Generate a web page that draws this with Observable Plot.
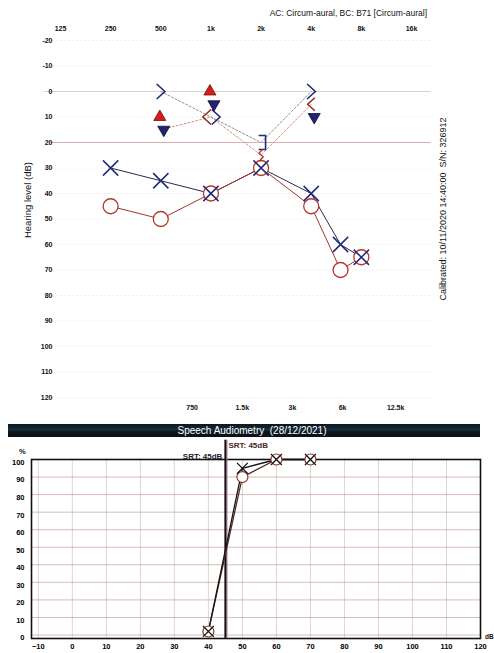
<!DOCTYPE html>
<html><head><meta charset="utf-8">
<script src="https://cdn.jsdelivr.net/npm/d3@7"></script>
<script src="https://cdn.jsdelivr.net/npm/@observablehq/plot@0.6"></script>
<style>
body{margin:0;background:#fff;}
#wrap{position:relative;width:494px;height:653px;overflow:hidden;font-family:"Liberation Sans",Arial,sans-serif;}
.abs{position:absolute;white-space:nowrap;color:#111;line-height:1;}
.plot{position:absolute;left:0;}
</style></head><body><div id="wrap"></div>
<script>
// ---------- Audiogram data ----------
const freqTicks = [125, 250, 500, 1000, 2000, 4000, 8000, 16000];
const freqTickLabels = ["125", "250", "500", "1k", "2k", "4k", "8k", "16k"];
const interTicks = [750, 1500, 3000, 6000, 12500];
const interTickLabels = ["750", "1.5k", "3k", "6k", "12.5k"];
const levelTicks = [-20, -10, 0, 10, 20, 30, 40, 50, 60, 70, 80, 90, 100, 110, 120];
const normalLimit = 20;

const acFreqs = [250, 500, 1000, 2000, 4000, 6000, 8000];
const acRight = [45, 50, 40, 30, 45, 70, 65];   // O
const acLeft  = [30, 35, 40, 30, 40, 60, 65];   // X

const bcFreqs = [500, 1000, 2000, 4000];
const bcRight = [15, 10, 25, 5];
const bcLeft  = [0, 10, 20, 0];
const bcRightSym = [null, "<", "zig", "<"];
const bcLeftSym  = [">", ">", "]", ">"];

const triRightFreqs = [500, 1000];
const triRightLevels = [10, 0];
const triLeftFreqs = [500, 1000, 4000];
const triLeftLevels = [15, 5, 10];

// ---------- Speech audiometry data ----------
const speechXTicks = [-10, 0, 10, 20, 30, 40, 50, 60, 70, 80, 90, 100, 110, 120];
const speechYTicks = [0, 10, 20, 30, 40, 50, 60, 70, 80, 90, 100];
const speechLevels = [40, 50, 60, 70];
const speechLeft  = [2, 95, 100, 100];
const speechRight = [2, 90, 100, 100];
const srtLeft = 45, srtRight = 45;

// ---------- helpers ----------
const FONT = '"Liberation Sans", Arial, sans-serif';
const RED = "#b3382a", NAVY = "#1f2a78";
const rad = s => Math.sqrt(s / Math.PI);
const chevRight = {draw(c, s){const r = rad(s); c.moveTo(-0.55*r, -r); c.lineTo(0.55*r, 0); c.lineTo(-0.55*r, r);}};
const chevLeft  = {draw(c, s){const r = rad(s); c.moveTo(0.55*r, -r); c.lineTo(-0.55*r, 0); c.lineTo(0.55*r, r);}};
const bracketR  = {draw(c, s){const r = rad(s); c.moveTo(-0.5*r, -r); c.lineTo(0.5*r, -r); c.lineTo(0.5*r, r); c.lineTo(-0.5*r, r);}};
const zig       = {draw(c, s){const r = rad(s); c.moveTo(0.3*r, -r); c.lineTo(-0.35*r, -0.35*r); c.lineTo(0.35*r, 0.25*r); c.lineTo(-0.3*r, r);}};

const acRows = acFreqs.map((f, i) => ({f, r: acRight[i], l: acLeft[i]}));
const bcRows = bcFreqs.map((f, i) => ({f, r: bcRight[i], l: bcLeft[i], rs: bcRightSym[i], ls: bcLeftSym[i]}));
const shared = d => d.r === d.l;
const triR = triRightFreqs.map((f, i) => ({f, v: triRightLevels[i]}));
const triL = triLeftFreqs.map((f, i) => ({f, v: triLeftLevels[i]}));
const spRows = speechLevels.map((x, i) => ({x, l: speechLeft[i], r: speechRight[i]}));
const freqLabelRows = freqTicks.map((f, i) => ({f, t: freqTickLabels[i]}));
const interLabelRows = interTicks.map((f, i) => ({f, t: interTickLabels[i]}));

const wrap = document.getElementById("wrap");

// ---------- Audiogram ----------
const audiogram = Plot.plot({
  width: 494, height: 420,
  marginTop: 40, marginBottom: 23, marginLeft: 60, marginRight: 83,
  style: {fontFamily: FONT, background: "transparent", overflow: "visible"},
  x: {type: "log", domain: [125, 16000], axis: null},
  y: {domain: [-20, 120], reverse: true, axis: null},
  marks: [
    Plot.ruleY(levelTicks, {x1: 100, x2: 21000, stroke: "#efeaea", strokeWidth: 0.8, strokeDasharray: "2,2"}),
    Plot.ruleY([0], {x1: 100, x2: 21000, stroke: "#dcd2d2", strokeWidth: 1}),
    Plot.ruleY([normalLimit], {x1: 108, x2: 21000, stroke: "#dcaeab", strokeWidth: 1}),
    // bone conduction dotted lines
    Plot.line(bcRows, {x: "f", y: "l", stroke: "#8d8d9c", strokeWidth: 1, strokeDasharray: "2,2"}),
    Plot.line(bcRows, {x: "f", y: "r", stroke: "#d4908a", strokeWidth: 1, strokeDasharray: "2,2"}),
    // air conduction lines
    Plot.line(acRows, {x: "f", y: "l", stroke: "#2b2b4f", strokeWidth: 1}),
    Plot.line(acRows, {x: "f", y: "r", stroke: "#a5352a", strokeWidth: 1}),
    Plot.dot(acRows, {x: "f", y: "r", r: 7.5, stroke: RED, fill: "white", strokeWidth: 1.3}),
    Plot.dot(acRows, {x: "f", y: "l", symbol: "times", r: 7, stroke: NAVY, strokeWidth: 1.5}),
    // bone conduction symbols
    Plot.dot(bcRows.filter(d => d.ls === ">" && !shared(d)), {x: "f", y: "l", symbol: chevRight, r: 7.5, stroke: NAVY, fill: "none", strokeWidth: 1.6}),
    Plot.dot(bcRows.filter(d => d.ls === ">" && shared(d)), {x: "f", y: "l", symbol: chevRight, r: 7.5, dx: 5, stroke: NAVY, fill: "none", strokeWidth: 1.6}),
    Plot.dot(bcRows.filter(d => d.rs === "<" && !shared(d)), {x: "f", y: "r", symbol: chevLeft, r: 6.5, stroke: "#8a2a1e", fill: "none", strokeWidth: 1.5}),
    Plot.dot(bcRows.filter(d => d.rs === "<" && shared(d)), {x: "f", y: "r", symbol: chevLeft, r: 7.5, dx: -4, stroke: "#8a2a1e", fill: "none", strokeWidth: 1.5}),
    Plot.dot(bcRows.filter(d => d.ls === "]"), {x: "f", y: "l", symbol: bracketR, r: 7, dx: 1, stroke: NAVY, fill: "none", strokeWidth: 1.6}),
    Plot.dot(bcRows.filter(d => d.rs === "zig"), {x: "f", y: "r", symbol: zig, r: 6, stroke: "#a5352a", fill: "none", strokeWidth: 1.3}),
    // triangles
    Plot.dot(triR, {x: "f", y: "v", symbol: "triangle", r: 4.5, fill: "#d41c1c", stroke: "#7a1010", strokeWidth: 0.8, dx: -1}),
    Plot.dot(triL, {x: "f", y: "v", symbol: "triangle", rotate: 180, r: 4.5, fill: "#23236e", stroke: "#111140", strokeWidth: 0.8, dx: 3}),
    // axes (as text marks so every label shows)
    Plot.text(freqLabelRows, {x: "f", text: "t", frameAnchor: "top", dy: -14, fontSize: 7, fontWeight: "bold", fill: "#111"}),
    Plot.text(interLabelRows, {x: "f", text: "t", frameAnchor: "bottom", dy: 12, dx: 2, fontSize: 7, fontWeight: "bold", fill: "#111"}),
    Plot.text(levelTicks, {y: d => d, text: d => String(d), frameAnchor: "left", dx: -8, textAnchor: "end", fontSize: 7, fontWeight: "bold", fill: "#111"})
  ]
});
audiogram.classList.add("plot");
audiogram.style.top = "0px";
wrap.appendChild(audiogram);

// ---------- Speech audiometry ----------
const speech = Plot.plot({
  width: 494, height: 213,
  marginTop: 19, marginBottom: 15, marginLeft: 31, marginRight: 14,
  style: {fontFamily: FONT, background: "transparent", overflow: "visible"},
  x: {domain: [-12, 120]},
  y: {domain: [-2, 100]},
  marks: [
    Plot.ruleX(speechXTicks, {stroke: "#d2cccc", strokeWidth: 0.8}),
    Plot.ruleY(speechYTicks, {stroke: "#b98880", strokeOpacity: 0.7, strokeWidth: 0.8}),
    Plot.frame({stroke: "#111", strokeWidth: 1.6}),
    Plot.ruleX([srtRight], {y1: -2, y2: 111, stroke: "#b07a9a", strokeWidth: 1.2, dx: 1.5}),
    Plot.ruleX([srtLeft], {y1: -2, y2: 111, stroke: "#111", strokeWidth: 2}),
    Plot.text([srtLeft], {x: d => d, frameAnchor: "top", dy: -6, dx: -3, textAnchor: "end", text: d => `SRT: ${d}dB`, fontSize: 8, fontWeight: "bold", fill: "#1c1c2a"}),
    Plot.text([srtRight], {x: d => d, frameAnchor: "top", dy: -17, dx: 3, textAnchor: "start", text: d => `SRT: ${d}dB`, fontSize: 8, fontWeight: "bold", fill: "#4a2620"}),
    Plot.line(spRows, {x: "x", y: "r", stroke: "#5a2a24", strokeWidth: 1.3}),
    Plot.line(spRows, {x: "x", y: "l", stroke: "#151515", strokeWidth: 1.3}),
    Plot.dot(spRows, {x: "x", y: "r", r: 5.5, stroke: "#8a3328", fill: "white", strokeWidth: 1.2}),
    Plot.dot(spRows, {x: "x", y: "l", symbol: "times", r: 5, stroke: "#151515", strokeWidth: 1.3}),
    Plot.axisX(speechXTicks, {anchor: "bottom", tickSize: 0, tickPadding: 5, label: null, fontSize: 7.5, fontWeight: "bold"}),
    Plot.axisY(speechYTicks, {anchor: "left", tickSize: 0, tickPadding: 7, label: null, fontSize: 7.5, fontWeight: "bold", dy: 3})
  ]
});
speech.classList.add("plot");
speech.style.top = "440px";
wrap.appendChild(speech);

// ---------- texts ----------
function addText(txt, css){
  const d = document.createElement("div");
  d.className = "abs";
  d.textContent = txt;
  Object.assign(d.style, css);
  wrap.appendChild(d);
  return d;
}
addText("AC: Circum-aural, BC: B71 [Circum-aural]", {right: "67px", top: "9px", fontSize: "8.5px"});
addText("Hearing level (dB)", {left: "28px", top: "200px", fontSize: "9.5px", transform: "translate(-50%,-50%) rotate(-90deg)"});
addText("Calibrated: 10/11/2020 14:40:00  S/N: 326912", {left: "443px", top: "209px", fontSize: "9px", transform: "translate(-50%,-50%) rotate(-90deg)", whiteSpace: "pre"});
addText("Speech Audiometry  (28/12/2021)", {left: "8px", top: "424px", width: "472px", height: "13px", lineHeight: "13px",
  fontSize: "10px", color: "#fff", textAlign: "center", paddingLeft: "16px", boxSizing: "border-box", whiteSpace: "pre",
  background: "linear-gradient(#0c161d 0%, #12303c 45%, #0c161d 60%, #0a1218 100%)"});
addText("%", {left: "19px", top: "448px", fontSize: "7.5px", fontWeight: "bold"});
addText("dB", {left: "485px", top: "634px", fontSize: "6.5px", fontWeight: "bold"});
</script></body></html>
